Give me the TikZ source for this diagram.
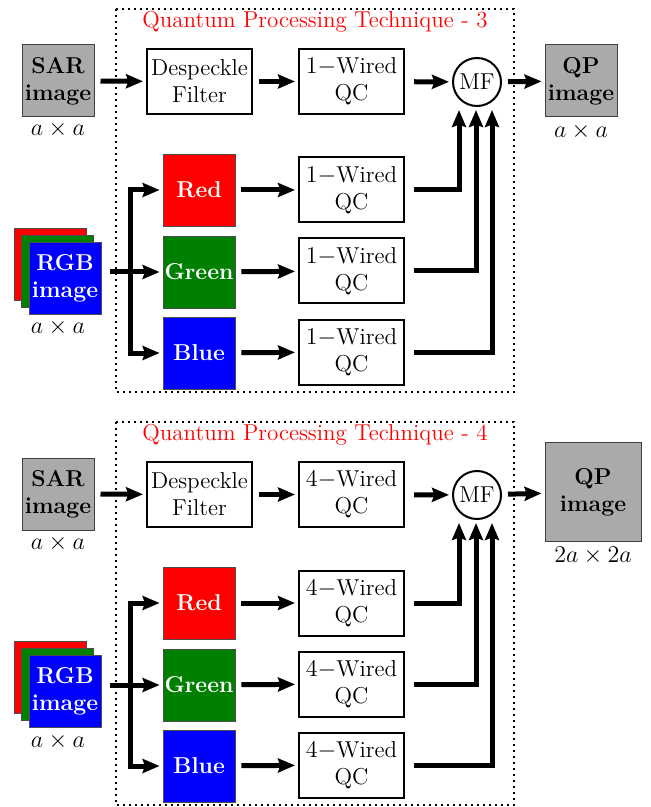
\documentclass[tikz,border=0pt]{standalone}
\usetikzlibrary{arrows.meta,calc}
\definecolor{imggray}{RGB}{170,170,170}
\definecolor{dgreen}{RGB}{0,128,0}
\newcommand\diagfont{\fontsize{11.5}{13.5}\selectfont}
\tikzset{
  every node/.style={font=\diagfont},
  imgbox/.style={draw=black!75, line width=0.5pt, fill=imggray, minimum width=36pt,
    minimum height=36pt, inner sep=0pt, align=center, font=\diagfont\bfseries},
  procbox/.style={draw, line width=1pt, minimum width=52.5pt, minimum height=32.5pt,
    inner sep=0pt, align=center},
  chanbox/.style={draw=black!70, line width=0.4pt, minimum width=36pt, minimum height=36pt,
    inner sep=0pt, align=center, text=white, font=\diagfont\bfseries},
  mfnode/.style={draw, circle, line width=1pt, minimum size=24pt, inner sep=0pt},
  flow/.style={line width=2.5pt, -{Stealth[length=8.5pt,width=7pt,inset=1.2pt]},
    shorten <=3pt, shorten >=1.5pt},
  frame/.style={line width=1.3pt, dash pattern=on 1.2pt off 1.8pt},
}

% one processing stage: #1 vertical offset, #2 technique number, #3 wire count,
% #4 output box options, #5 output box centre, #6 output size label
\newcommand\qpstage[6]{%
\begin{scope}[shift={(0,#1)}, name prefix=s#2-]
  \draw[frame] (116,9) rectangle (514,392);
  \node[text=red] (title) at (315,22) {Quantum Processing Technique - #2};
  % SAR branch
  \node[imgbox] (sar) at (58,81) {SAR\\image};
  \node (sardim) at (58,130) {$a\times a$};
  \node[procbox] (desp) at (199.5,81.5) {Despeckle\\Filter};
  \node[procbox] (qs) at (351.5,81.5) {$#3{-}$Wired\\QC};
  \node[mfnode] (mf) at (477,82) {MF};
  \node[imgbox,#4] (qp) at (#5) {QP\\image};
  \node (qpdim) at ($(qp.south)+(0,14)$) {#6};
  % RGB branch
  \node[chanbox, fill=red] (rgbR) at (50,264) {};
  \node[chanbox, fill=dgreen] (rgbG) at (57,271) {};
  \node[chanbox, fill=blue] (rgbB) at (65,278) {};
  \node[text=white, font=\diagfont\bfseries, align=center] (rgbtxt) at (65,278) {RGB\\image};
  \node (rgbdim) at (58,328) {$a\times a$};
  \node[chanbox, fill=red] (red) at (199,190) {Red};
  \node[chanbox, fill=dgreen] (green) at (199,272) {Green};
  \node[chanbox, fill=blue] (blue) at (199,353) {Blue};
  \node[procbox] (qr) at (351.5,190) {$#3{-}$Wired\\QC};
  \node[procbox] (qg) at (351.5,271) {$#3{-}$Wired\\QC};
  \node[procbox] (qb) at (351.5,352) {$#3{-}$Wired\\QC};
  \coordinate (rgbout) at (104,272);
  \coordinate (split) at (130,272);
  % connectors
  \draw[flow] (sar) -- (desp);
  \draw[flow] (desp) -- (qs);
  \draw[flow, shorten <=4.5pt] (qs) -- (mf);
  \draw[flow] (mf) -- (qp);
  \draw[flow] (rgbout) -- (green);
  \draw[flow, shorten <=0pt] (split) |- (red);
  \draw[flow, shorten <=0pt] (split) |- (blue);
  \draw[flow] (red) -- (qr);
  \draw[flow] (green) -- (qg);
  \draw[flow] (blue) -- (qb);
  \draw[flow, shorten <=4.5pt] (qr.east) -| ([xshift=-9pt]mf.south);
  \draw[flow, shorten <=4.5pt] (qg.east) -| ([xshift=-0.5pt]mf.south);
  \draw[flow, shorten <=4.5pt] (qb.east) -| ([xshift=7.5pt]mf.south);
\end{scope}}

\begin{document}
\begin{tikzpicture}[x=0.5pt, y=-0.5pt]
  \useasboundingbox (0,0) rectangle (650,807);
  \qpstage{0}{3}{1}{}{581,81}{$a\times a$}
  \qpstage{413}{4}{4}{minimum width=48pt, minimum height=49.5pt}{593,79}{$2a\times 2a$}
\end{tikzpicture}
\end{document}
